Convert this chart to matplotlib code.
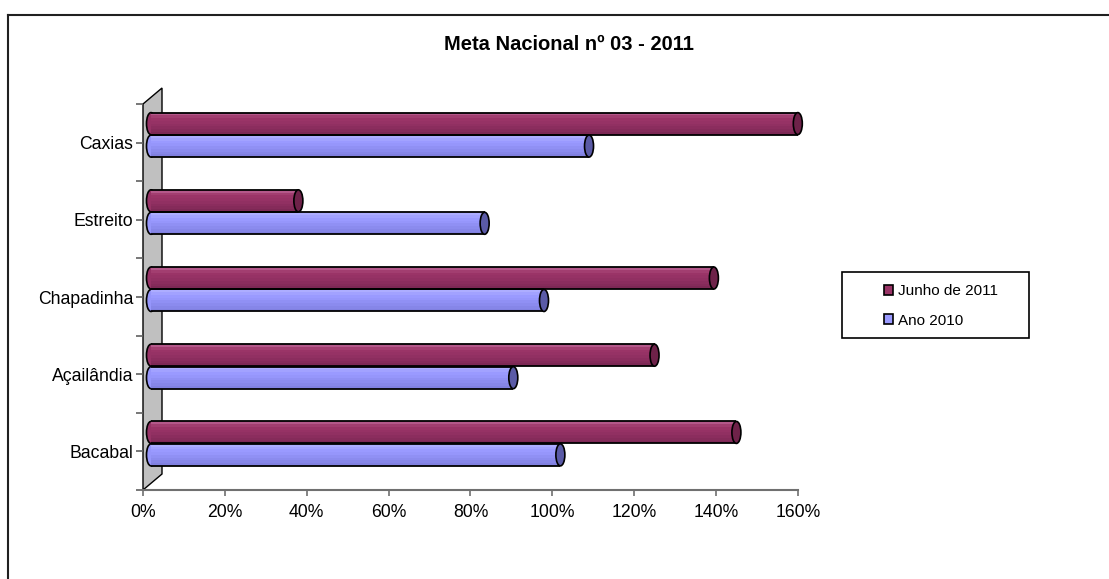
import matplotlib
matplotlib.use("Agg")
import matplotlib.pyplot as plt
import numpy as np
from matplotlib.patches import Ellipse, Polygon, Patch, Rectangle
from matplotlib.lines import Line2D

plt.rcParams["font.family"] = ["Liberation Sans", "DejaVu Sans"]

CATEGORIES = ["Bacabal", "Açailândia", "Chapadinha", "Estreito", "Caxias"]
JUNHO_2011 = [143, 123, 137.5, 36, 158]
ANO_2010 = [100, 88.5, 96, 81.5, 107]
SERIES_LABELS = ["Junho de 2011", "Ano 2010"]
XTICKS = [0, 20, 40, 60, 80, 100, 120, 140, 160]

W, H = 1109, 579
FRAME_L, FRAME_R, FRAME_T, FRAME_B = 143, 798, 104, 490

MAROON = ["#b4588a", "#a23e70", "#9a3467", "#963265", "#913062", "#8b2d5e", "#852b5a", "#7d2855"]
BLUE = ["#adadff", "#a2a2ff", "#9a9aff", "#9696fb", "#9090f4", "#8b8bee", "#8686e8", "#8080e0"]
MAROON_CAP = "#6e2249"
BLUE_CAP = "#5a5aa6"


def draw_cylinders(ax, ypos, values, shades, cap_color, x0, height, cap_w):
    n = len(shades)
    ypos = np.asarray(ypos, dtype=float)
    values = np.asarray(values, dtype=float)
    # left rounded end
    for y in ypos:
        ax.add_patch(Ellipse((x0, y), cap_w, height, facecolor=shades[3],
                             edgecolor="black", linewidth=1.2, zorder=2, clip_on=False))
    # cylinder body as shaded strips
    for k, c in enumerate(shades):
        yk = ypos + height / 2 - (k + 0.5) * height / n
        bars = ax.barh(yk, values, left=x0, height=height / n, color=c,
                       edgecolor="none", linewidth=0, zorder=3)
        for b in bars:
            b.set_clip_on(False)
    ax.hlines(ypos + height / 2, x0, x0 + values, color="black", linewidth=1.3,
              zorder=4, clip_on=False)
    ax.hlines(ypos - height / 2, x0, x0 + values, color="black", linewidth=1.3,
              zorder=4, clip_on=False)
    # right end cap
    for y, v in zip(ypos, values):
        ax.add_patch(Ellipse((x0 + v, y), cap_w, height, facecolor=cap_color,
                             edgecolor="black", linewidth=1.2, zorder=5, clip_on=False))


def main():
    fig = plt.figure(figsize=(W / 100, H / 100), dpi=100)
    ax = fig.add_axes([FRAME_L / W, (H - FRAME_B) / H,
                       (FRAME_R - FRAME_L) / W, (FRAME_B - FRAME_T) / H])
    ax.set_xlim(0, 160)
    ax.set_ylim(-0.5, len(CATEGORIES) - 0.5)

    px_x = (FRAME_R - FRAME_L) / 160.0
    px_y = (FRAME_B - FRAME_T) / len(CATEGORIES)

    # back wall (3D depth)
    dx = 19 / px_x
    dy = 16 / px_y
    top = len(CATEGORIES) - 0.5
    wall = Polygon([(0, -0.5), (0, top), (dx, top + dy), (dx, -0.5 + dy)],
                   closed=True, facecolor="#c0c0c0", edgecolor="black",
                   linewidth=1.0, zorder=1, clip_on=False)
    ax.add_patch(wall)

    y = np.arange(len(CATEGORIES))
    bar_h = 0.285
    x0 = 8 / px_x
    cap_w = 9 / px_x
    draw_cylinders(ax, y + 0.246, JUNHO_2011, MAROON, MAROON_CAP, x0, bar_h, cap_w)
    draw_cylinders(ax, y - 0.045, ANO_2010, BLUE, BLUE_CAP, x0, bar_h, cap_w)

    for s in ["top", "right", "left"]:
        ax.spines[s].set_visible(False)
    ax.spines["bottom"].set_color("#707070")
    ax.spines["bottom"].set_linewidth(1.5)

    ax.set_xticks(XTICKS)
    ax.set_xticklabels([f"{t}%" for t in XTICKS])
    ax.tick_params(axis="x", direction="out", length=4, width=1.2, color="#707070",
                   labelsize=12.7, pad=6)
    ax.set_yticks(y)
    ax.set_yticklabels(CATEGORIES)
    ax.set_yticks(np.arange(-0.5, len(CATEGORIES), 1.0), minor=True)
    ax.tick_params(axis="y", which="both", direction="out", length=5, width=1.2,
                   color="#606060", labelsize=12.7, pad=2)
    ax.patch.set_alpha(0)

    fig.text(569 / W, 1 - 44 / H, "Meta Nacional nº 03 - 2011", ha="center", va="center",
             fontsize=14.5, fontweight="bold")

    # legend box
    fig.add_artist(Rectangle((842 / W, (H - 338) / H), 187 / W, 66 / H,
                             transform=fig.transFigure, facecolor="white",
                             edgecolor="black", linewidth=1.2))
    handles = [Patch(facecolor=MAROON[2], edgecolor="black", linewidth=1.2),
               Patch(facecolor=BLUE[2], edgecolor="black", linewidth=1.2)]
    fig.legend(handles, SERIES_LABELS, loc="center left",
               bbox_to_anchor=(876 / W, 1 - 306 / H), frameon=False,
               fontsize=11, handlelength=0.6, handleheight=0.6,
               handletextpad=0.35, labelspacing=1.0, borderpad=0)

    # chart frame (top and left edges visible)
    fig.add_artist(Line2D([8 / W, 1.0], [1 - 15 / H, 1 - 15 / H], transform=fig.transFigure,
                          color="#202020", linewidth=1.5))
    fig.add_artist(Line2D([8 / W, 8 / W], [0, 1 - 15 / H], transform=fig.transFigure,
                          color="#202020", linewidth=1.5))

    fig.savefig("out.png", dpi=100)
    plt.close(fig)


if __name__ == "__main__":
    main()
